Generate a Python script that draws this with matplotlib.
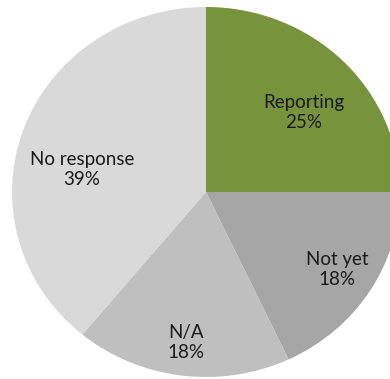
import numpy as np
import matplotlib
matplotlib.use("Agg")
import matplotlib.pyplot as plt

# Статус отчётности
labels = ["Reporting", "Not yet", "N/A", "No response"]
shares = [25, 18, 18, 39]
colors = ["#77933C", "#A6A6A6", "#BFBFBF", "#D9D9D9"]

# положение подписей: радиус и сдвиг угла (град.) от середины сектора
label_r = [0.665, 0.795, 0.82, 0.65]
label_shift = [-4.5, 0.5, 0.0, 9.0]

plt.rcParams["font.family"] = ["Lato", "DejaVu Sans"]

fig = plt.figure(figsize=(3.9, 3.79), dpi=100)
# круг слегка растянут по горизонтали и обрезан справа
ax = fig.add_axes([12 / 390, 2 / 379, 388 / 390, 370 / 379])

wedges, _ = ax.pie(
    shares,
    colors=colors,
    startangle=90,
    counterclock=False,
    radius=1.0,
    wedgeprops={"linewidth": 0},
)

for w, name, val, r, sh in zip(wedges, labels, shares, label_r, label_shift):
    mid = np.deg2rad((w.theta1 + w.theta2) / 2 + sh)
    ax.text(
        r * np.cos(mid),
        r * np.sin(mid),
        f"{name}\n{val}%",
        ha="center",
        va="center",
        fontsize=13.5,
        color="#1a1a1a",
        linespacing=1.2,
    )

ax.set_xlim(-1, 1)
ax.set_ylim(-1, 1)
ax.set_aspect("auto")
ax.axis("off")

fig.savefig("out.png", dpi=100)
